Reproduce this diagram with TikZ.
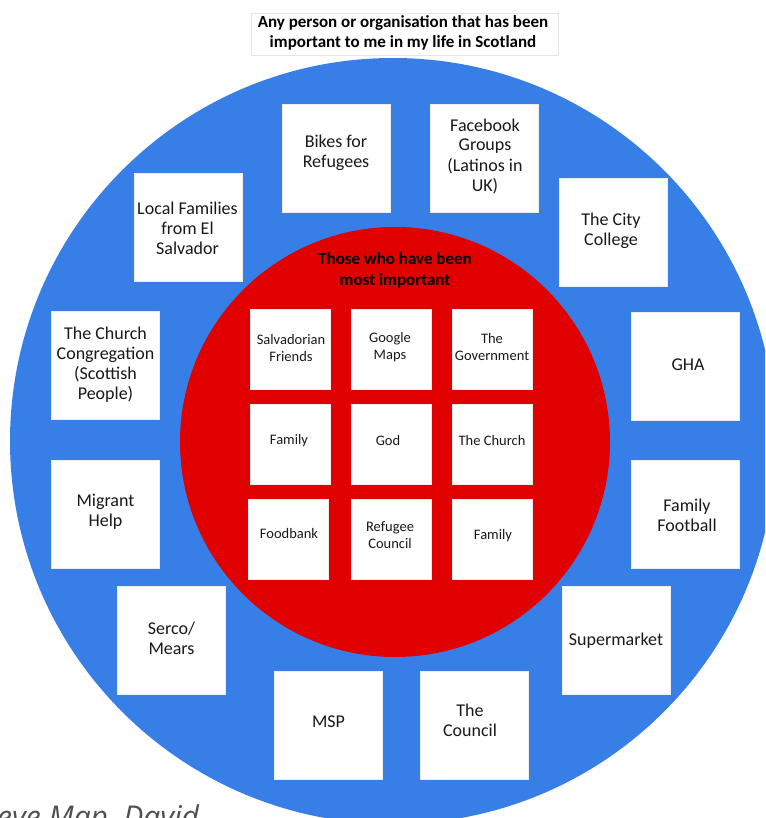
\documentclass[tikz,border=0pt]{standalone}
\usepackage{fontspec}
\setmainfont{Carlito}
\newfontfamily\capfont{Open Sans}
\definecolor{ringblue}{RGB}{55,127,230}
\definecolor{corered}{RGB}{224,0,0}
\definecolor{txtgray}{RGB}{25,25,25}
\definecolor{capgray}{RGB}{80,80,80}
\tikzset{
  outerbox/.style={fill=white, draw=black!7, line width=0.8pt, minimum width=108pt, minimum height=108pt, inner sep=0pt},
  innerbox/.style={fill=white, draw=black!7, line width=0.8pt, minimum width=80pt, minimum height=80pt, inner sep=0pt},
  outertxt/.style={align=center, text=txtgray, font=\fontsize{18}{20}\selectfont, inner sep=0pt},
  innertxt/.style={align=center, text=txtgray, font=\fontsize{14.5}{17}\selectfont, inner sep=0pt},
}
\begin{document}
\begin{tikzpicture}[x=1pt,y=-1pt]
\useasboundingbox (0,0) rectangle (765,818);
\begin{scope}
\clip (0,0) rectangle (765,818);
\fill[ringblue] (393,441) circle (383pt);
\fill[corered] (395,442) circle (215pt);
% caption (cut off at the lower edge, as in the reference)
\node[anchor=base west, inner sep=0pt, text=capgray, font=\capfont\itshape\fontsize{30}{32}\selectfont] (cap) at (-3,827) {eve Map, David};
\end{scope}

% title
\node[fill=white, draw=black!10, line width=0.6pt, minimum width=307pt, minimum height=42pt, inner sep=0pt] (titlebox) at (404.5,34) {};
\node[align=center, inner sep=0pt, font=\bfseries\fontsize{17}{20}\selectfont] (title) at (403,33) {Any person or organisation that has been\\important to me in my life in Scotland};

% red title
\node[align=center, inner sep=0pt, font=\bfseries\fontsize{17}{21}\selectfont] (coretitle) at (395,270) {Those who have been\\most important};

% outer boxes
\node[outerbox] (bikes) at (336,158) {};
\node[outertxt] (bikest) at (336,153) {Bikes for\\Refugees};
\node[outerbox] (fb) at (484,158) {};
\node[outertxt] (fbt) at (485,156) {Facebook\\Groups\\(Latinos in\\UK)};
\node[outerbox] (local) at (188.5,227) {};
\node[outertxt] (localt) at (187.5,228) {Local Families\\from El\\Salvador};
\node[outerbox] (city) at (613.5,232) {};
\node[outertxt] (cityt) at (611,231) {The City\\College};
\node[outerbox] (church) at (105.5,365.5) {};
\node[outertxt] (churcht) at (105.5,365) {The Church\\Congregation\\(Scottish\\People)};
\node[outerbox] (migrant) at (105.5,514) {};
\node[outertxt] (migrantt) at (105.5,512) {Migrant\\Help};
\node[outerbox] (serco) at (171.5,640) {};
\node[outertxt] (sercot) at (171.5,638) {Serco/\\Mears};
\node[outerbox] (gha) at (685,366) {};
\node[outertxt] (ghat) at (688,365) {GHA};
\node[outerbox] (football) at (685,514) {};
\node[outertxt] (footballt) at (687,515) {Family\\Football};
\node[outerbox] (super) at (616,640) {};
\node[outertxt] (supert) at (616,641) {Supermarket};
\node[outerbox] (msp) at (328.5,725) {};
\node[outertxt] (mspt) at (328.5,722) {MSP};
\node[outerbox] (council) at (474,725) {};
\node[outertxt] (councilt) at (470,720) {The\\Council};

% inner boxes
\node[innerbox] (salv) at (290.5,349) {};
\node[innertxt] (salvt) at (291,348) {Salvadorian\\Friends};
\node[innerbox] (gmaps) at (391,349) {};
\node[innertxt] (gmapst) at (390,347) {Google\\Maps};
\node[innerbox] (gov) at (492,349) {};
\node[innertxt] (govt) at (492,347) {The\\Government};
\node[innerbox] (fam1) at (290.5,444) {};
\node[innertxt] (fam1t) at (289,441) {Family};
\node[innerbox] (god) at (391,444) {};
\node[innertxt] (godt) at (388,441) {God};
\node[innerbox] (ch) at (492,444) {};
\node[innertxt] (cht) at (492,441) {The Church};
\node[innerbox] (food) at (288.5,539) {};
\node[innertxt] (foodt) at (289,534) {Foodbank};
\node[innerbox] (refc) at (391,539) {};
\node[innertxt] (refct) at (390,535) {Refugee\\Council};
\node[innerbox] (fam2) at (492,539) {};
\node[innertxt] (fam2t) at (493,536) {Family};
\end{tikzpicture}
\end{document}
